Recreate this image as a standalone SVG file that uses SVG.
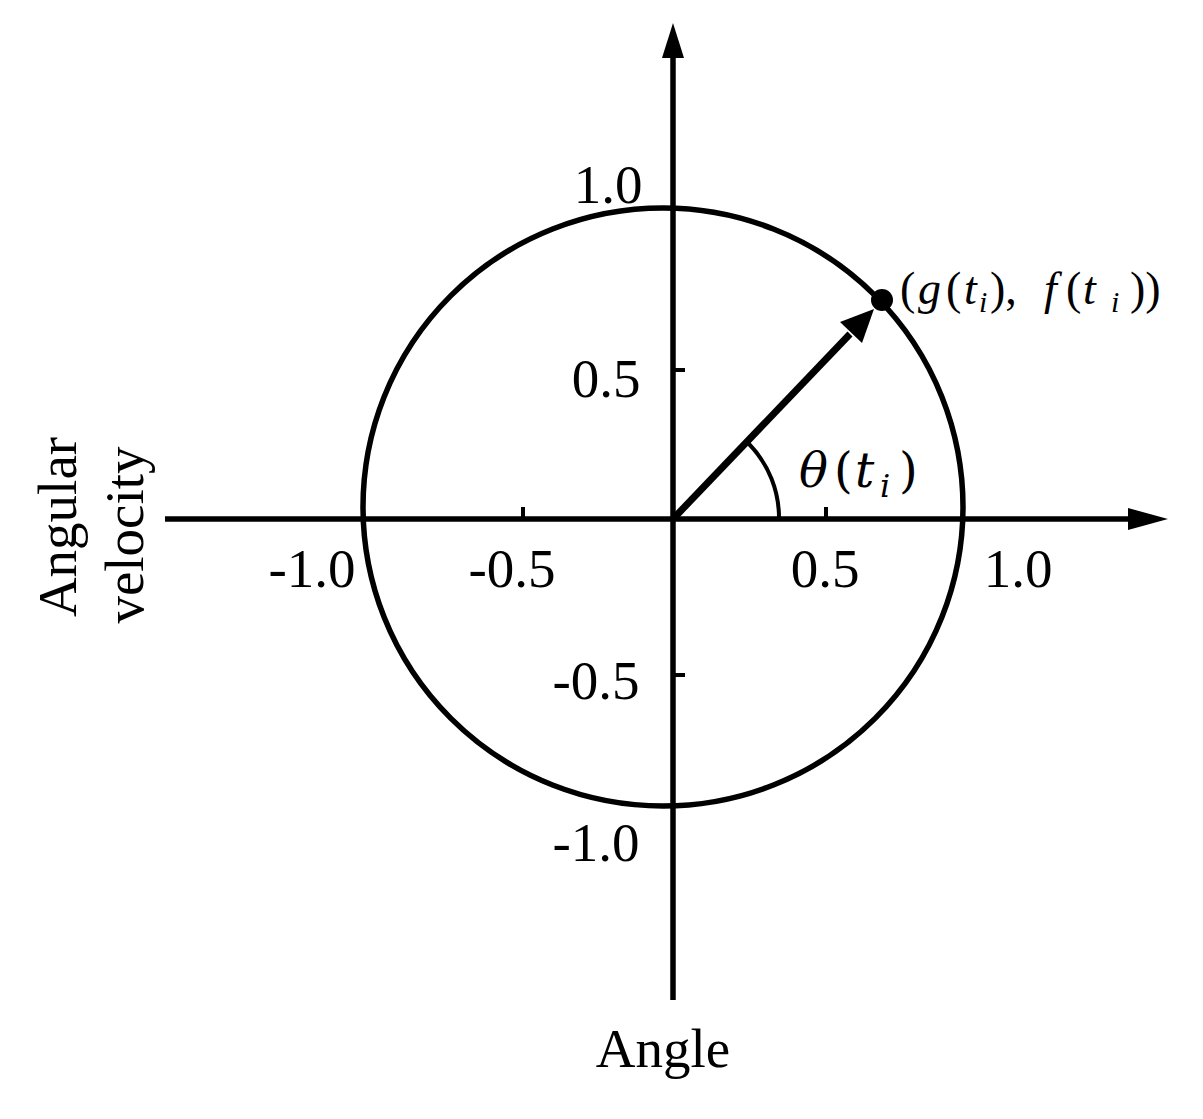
<svg xmlns="http://www.w3.org/2000/svg" width="1203" height="1119" viewBox="0 0 1203 1119">
<style>
.ax{stroke:#000;stroke-width:5.5;fill:none}
.tk{stroke:#000;stroke-width:4;fill:none}
.lbl{font-family:"Liberation Serif","Times New Roman",serif;font-size:55px;fill:#000}
.pt{font-family:"Liberation Serif","Times New Roman",serif;font-size:46px;fill:#000}
.it{font-style:italic}
.sub{font-size:30px;font-style:italic}
.th{font-family:"DejaVu Serif",serif;font-size:48px;fill:#000}
</style>
<rect width="1203" height="1119" fill="#fff"/>
<g id="axes">
<line class="ax" x1="673" y1="52" x2="673" y2="1000"/>
<polygon points="673,23 662,58 684,58" fill="#000"/>
<line class="ax" x1="165" y1="519" x2="1132" y2="519"/>
<polygon points="1168,519 1128,508 1128,530" fill="#000"/>
<line class="tk" x1="523" y1="519" x2="523" y2="507"/>
<line class="tk" x1="826" y1="519" x2="826" y2="507"/>
<line class="tk" x1="673" y1="370" x2="685" y2="370"/>
<line class="tk" x1="673" y1="675" x2="685" y2="675"/>
</g>
<g id="circle">
<ellipse cx="663" cy="507" rx="300" ry="299" class="ax"/>
</g>
<g id="connectors">
<line x1="673" y1="519" x2="850" y2="334" stroke="#000" stroke-width="7"/>
<polygon points="874,309 840,322 862,343" fill="#000"/>
<path d="M 779 519 A 106 106 0 0 0 749 444" class="tk"/>
</g>
<g id="point">
<circle cx="882" cy="300" r="11" fill="#000"/>
<text class="pt" y="304"><tspan x="900">(</tspan><tspan class="it" x="918">g</tspan><tspan x="946">(</tspan><tspan class="it" x="964">t</tspan><tspan class="sub" x="979" y="312">i</tspan><tspan x="990" y="304">),</tspan><tspan class="it" x="1044">f</tspan><tspan x="1066">(</tspan><tspan class="it" x="1083">t</tspan><tspan class="sub" x="1111" y="312">i</tspan><tspan x="1130" y="304">))</tspan></text>
</g>
<g id="theta">
<text class="th" y="487"><tspan class="it" x="799">θ</tspan><tspan x="834">(</tspan><tspan class="it" x="855">t</tspan><tspan class="it" x="880" y="497" font-size="32">i</tspan><tspan x="899" y="487">)</tspan></text>
</g>
<g id="labels">
<text class="lbl" x="608" y="203" text-anchor="middle">1.0</text>
<text class="lbl" x="606" y="397" text-anchor="middle">0.5</text>
<text class="lbl" x="596" y="699" text-anchor="middle">-0.5</text>
<text class="lbl" x="596" y="861" text-anchor="middle">-1.0</text>
<text class="lbl" x="312" y="587" text-anchor="middle">-1.0</text>
<text class="lbl" x="512" y="587" text-anchor="middle">-0.5</text>
<text class="lbl" x="825" y="587" text-anchor="middle">0.5</text>
<text class="lbl" x="1018" y="587" text-anchor="middle">1.0</text>
<text class="lbl" x="663" y="1067" text-anchor="middle" font-size="60">Angle</text>
<text class="lbl" font-size="60" text-anchor="middle" transform="translate(76,527) rotate(-90)">Angular</text>
<text class="lbl" font-size="60" text-anchor="middle" transform="translate(143,535) rotate(-90)">velocity</text>
</g>
</svg>
